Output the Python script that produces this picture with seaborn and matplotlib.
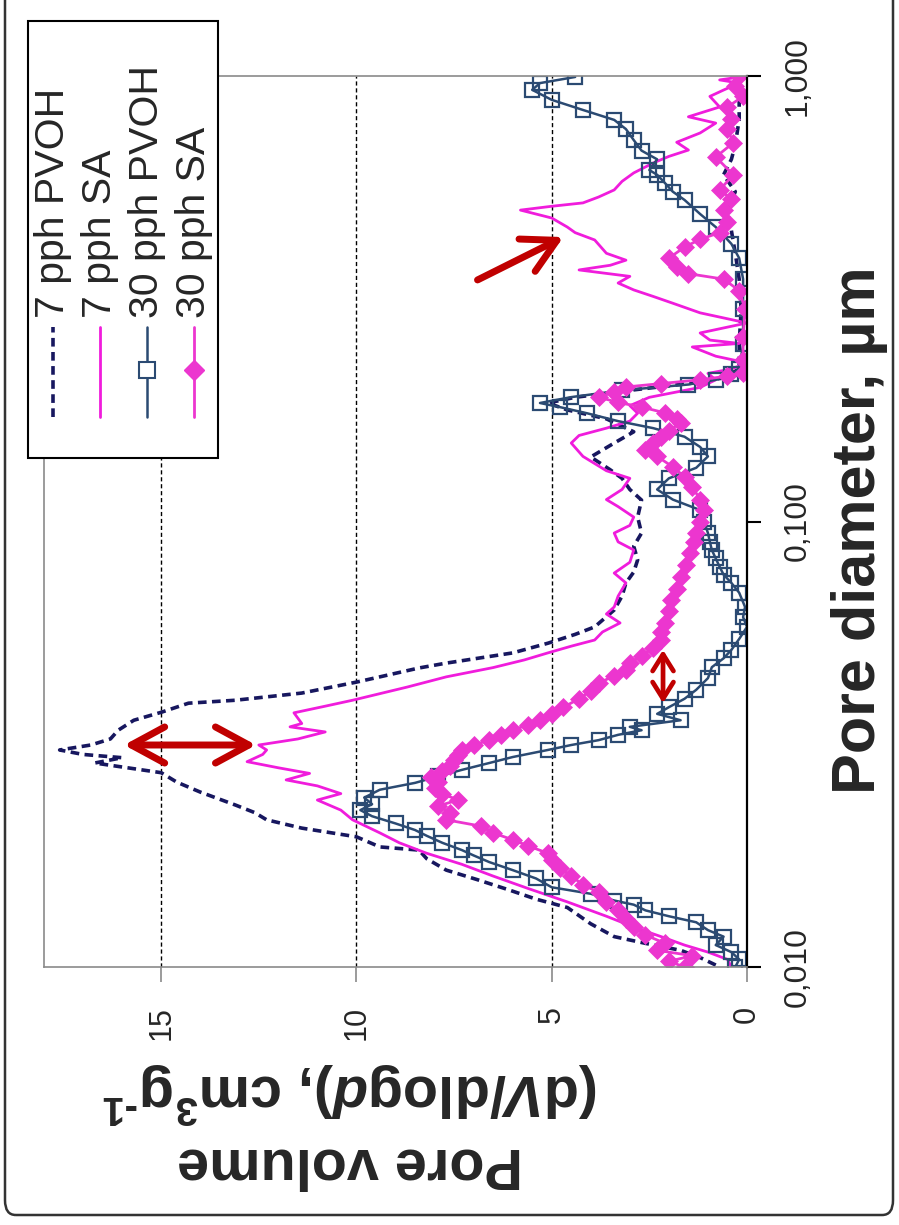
import matplotlib
matplotlib.use("Agg")
import matplotlib.pyplot as plt
import seaborn as sns
import numpy as np
from matplotlib.patches import Rectangle, FancyBboxPatch
from matplotlib.lines import Line2D
from matplotlib.ticker import FixedLocator, NullLocator

d_7pvoh = [0.0101, 0.0105, 0.0109, 0.0113, 0.0117, 0.0125, 0.0136, 0.0142, 0.0149, 0.0157,
           0.0165, 0.0175, 0.0183, 0.0186, 0.0196, 0.0205, 0.0214, 0.0222, 0.0231, 0.0247,
           0.0260, 0.0273, 0.0287, 0.0295, 0.0300, 0.0307, 0.0315, 0.0325, 0.0340, 0.0358,
           0.0373, 0.0391, 0.0397, 0.0412, 0.0436, 0.0448, 0.0469, 0.0481, 0.0507, 0.0533,
           0.0558, 0.0580, 0.0633, 0.0680, 0.0728, 0.0770, 0.0820, 0.0880, 0.0942, 0.1023,
           0.1117, 0.1180, 0.1250, 0.1306, 0.1396, 0.1500, 0.1590, 0.1700, 0.1780, 0.1845,
           0.1900, 0.1970, 0.2040, 0.2100, 0.2200, 0.2500, 0.3000, 0.3500, 0.4000, 0.4500,
           0.5000, 0.5500, 0.6000, 0.6500, 0.7000, 0.8000, 0.9000, 1.0000]
v_7pvoh = [0.8, 1.2, 1.7, 2.6, 3.4, 4.0, 4.6, 5.4, 6.1, 6.9,
           7.7, 8.2, 8.4, 9.4, 10.0, 11.4, 12.3, 12.6, 13.1, 14.0,
           14.6, 15.0, 16.7, 16.0, 17.0, 17.6, 16.8, 16.3, 16.1, 15.7,
           15.0, 14.3, 13.1, 11.4, 10.0, 9.4, 8.4, 7.7, 6.0, 5.1,
           4.4, 3.9, 3.4, 3.2, 3.1, 2.9, 2.8, 2.9, 2.7, 2.8,
           2.7, 3.0, 3.2, 3.5, 4.0, 3.4, 2.9, 3.6, 4.6, 5.1,
           4.4, 3.0, 1.5, 0.6, 0.2, 0.2, 0.15, 0.2, 0.3, 0.4,
           0.5, 0.3, 0.6, 0.4, 0.3, 0.2, 0.2, 0.3]

d_7sa = [0.0100, 0.0104, 0.0108, 0.0112, 0.0117, 0.0122, 0.0130, 0.0140, 0.0150, 0.0160,
         0.0170, 0.0180, 0.0190, 0.0200, 0.0214, 0.0225, 0.0237, 0.0245, 0.0255, 0.0263,
         0.0272, 0.0280, 0.0289, 0.0300, 0.0307, 0.0315, 0.0325, 0.0337, 0.0346, 0.0352,
         0.0372, 0.0385, 0.0397, 0.0425, 0.0448, 0.0470, 0.0489, 0.0507, 0.0525, 0.0542,
         0.0565, 0.0592, 0.0620, 0.0643, 0.0680, 0.0728, 0.0766, 0.0810, 0.0863, 0.0900,
         0.0942, 0.0980, 0.1023, 0.1080, 0.1120, 0.1180, 0.1250, 0.1300, 0.1400, 0.1500,
         0.1560, 0.1620, 0.1680, 0.1750, 0.1820, 0.1900, 0.2000, 0.2080, 0.2150, 0.2200,
         0.2270, 0.2350, 0.2465, 0.2510, 0.2554, 0.2650, 0.2790, 0.2940, 0.3090, 0.3200,
         0.3310, 0.3430, 0.3550, 0.3670, 0.3760, 0.3860, 0.4000, 0.4285, 0.4450, 0.4580,
         0.4800, 0.5000, 0.5100, 0.5190, 0.5350, 0.5550, 0.5800, 0.6060, 0.6380, 0.6600,
         0.6820, 0.7100, 0.7450, 0.7840, 0.8100, 0.8520, 0.9000, 0.9300, 0.9640, 0.9800,
         1.0000]
v_7sa = [0.4, 0.5, 1.0, 1.6, 2.2, 2.8, 3.6, 4.6, 5.6, 6.5,
         7.3, 8.2, 8.9, 9.4, 10.1, 10.4, 11.0, 10.4, 11.0, 11.8,
         11.2, 12.0, 12.8, 12.4, 12.3, 12.5, 11.5, 10.8, 11.7, 11.4,
         11.6, 10.8, 10.1, 8.7, 7.7, 6.5, 5.7, 5.1, 4.5, 3.9,
         3.7, 3.25, 3.6, 3.4, 3.3, 3.1, 3.4, 3.0, 2.9, 3.3,
         3.4, 3.0, 2.9, 3.3, 3.6, 3.2, 3.0, 3.6, 4.2, 4.5,
         4.3, 3.6, 3.0, 2.8, 3.0, 2.5, 1.2, 0.8, 1.0, 0.4,
         0.0, 0.8, 1.4, 0.2, 0.95, 1.2, 0.0, 1.2, 1.9, 2.4,
         2.9, 3.3, 3.0, 4.3, 3.5, 3.1, 3.6, 3.9, 4.4, 4.6,
         5.0, 5.8, 5.0, 4.2, 3.8, 3.4, 3.2, 2.9, 2.4, 2.0,
         1.5, 1.8, 1.2, 0.8, 1.5, 0.7, 0.95, 0.6, 0.2, 0.7,
         0.0]

d_30pvoh = [0.0100, 0.0104, 0.0108, 0.0112, 0.0117, 0.0121, 0.0126, 0.0130, 0.0134, 0.0138,
            0.0141, 0.0146, 0.0151, 0.0158, 0.0165, 0.0172, 0.0178, 0.0183, 0.0190, 0.0197,
            0.0203, 0.0210, 0.0218, 0.0225, 0.0232, 0.0240, 0.0250, 0.0259, 0.0268, 0.0277,
            0.0287, 0.0296, 0.0307, 0.0315, 0.0323, 0.0332, 0.0340, 0.0346, 0.0358, 0.0370,
            0.0383, 0.0400, 0.0419, 0.0445, 0.0471, 0.0493, 0.0515, 0.0545, 0.0580, 0.0610,
            0.0643, 0.0692, 0.0728, 0.0760, 0.0791, 0.0826, 0.0863, 0.0900, 0.0942, 0.1000,
            0.1061, 0.1120, 0.1180, 0.1250, 0.1320, 0.1400, 0.1470, 0.1550, 0.1620, 0.1680,
            0.1750, 0.1807, 0.1845, 0.1902, 0.1970, 0.2030, 0.2080, 0.2140, 0.2200, 0.2500,
            0.3000, 0.3500, 0.3900, 0.4200, 0.4580, 0.4900, 0.5270, 0.5500, 0.5750, 0.6000,
            0.6150, 0.6500, 0.6800, 0.7180, 0.7600, 0.7970, 0.8390, 0.8840, 0.9310, 0.9640,
            0.9950]
v_30pvoh = [0.3, 0.2, 0.4, 0.8, 0.6, 1.0, 1.3, 2.0, 2.6, 2.9,
            3.4, 4.0, 5.0, 5.4, 6.0, 6.6, 7.0, 7.3, 7.8, 8.2,
            8.5, 9.0, 9.6, 9.9, 9.6, 9.8, 9.4, 8.5, 7.9, 7.3,
            6.6, 6.0, 5.1, 4.5, 3.8, 3.3, 2.7, 3.0, 1.7, 2.3,
            2.0, 1.6, 1.3, 1.0, 0.9, 0.6, 0.4, 0.2, 0.0, 0.1,
            0.05, 0.2, 0.4, 0.6, 0.7, 0.8, 0.9, 0.95, 1.0, 1.1,
            1.2, 1.9, 2.3, 2.0, 1.3, 1.0, 1.2, 1.6, 2.4, 3.3,
            4.1, 4.8, 5.3, 4.5, 3.2, 1.5, 0.8, 0.4, 0.2, 0.1,
            0.1, 0.1, 0.2, 0.4, 0.8, 1.2, 1.6, 1.9, 2.1, 2.3,
            2.5, 2.3, 2.7, 2.9, 3.1, 3.4, 4.2, 5.0, 5.5, 5.3,
            4.4]

d_30sa = [0.0100, 0.0103, 0.0106, 0.0109, 0.0113, 0.0118, 0.0123, 0.0128, 0.0134, 0.0140,
          0.0147, 0.0153, 0.0160, 0.0167, 0.0174, 0.0180, 0.0187, 0.0193, 0.0200, 0.0207,
          0.0214, 0.0222, 0.0230, 0.0237, 0.0245, 0.0252, 0.0260, 0.0267, 0.0275, 0.0283,
          0.0291, 0.0299, 0.0307, 0.0315, 0.0323, 0.0332, 0.0340, 0.0350, 0.0358, 0.0370,
          0.0383, 0.0400, 0.0417, 0.0434, 0.0450, 0.0465, 0.0481, 0.0500, 0.0520, 0.0542,
          0.0565, 0.0592, 0.0630, 0.0667, 0.0705, 0.0750, 0.0800, 0.0849, 0.0900, 0.0942,
          0.1000, 0.1061, 0.1120, 0.1196, 0.1260, 0.1326, 0.1400, 0.1446, 0.1500, 0.1550,
          0.1600, 0.1664, 0.1700, 0.1753, 0.1807, 0.1850, 0.1902, 0.1950, 0.2004, 0.2040,
          0.2080, 0.2120, 0.2160, 0.2300, 0.2600, 0.3000, 0.3300, 0.3500, 0.3600, 0.3730,
          0.3900, 0.4130, 0.4300, 0.4450, 0.4700, 0.5000, 0.5300, 0.5550, 0.6000, 0.6580,
          0.7080, 0.7600, 0.8000, 0.8520, 0.9000, 0.9500, 1.0000]
v_30sa = [1.6, 2.0, 1.4, 2.3, 2.1, 2.6, 2.9, 3.1, 3.3, 3.6,
          3.8, 4.2, 4.5, 4.8, 5.0, 5.1, 5.6, 6.0, 6.5, 6.8,
          7.7, 7.6, 7.9, 7.4, 7.8, 8.0, 7.9, 8.1, 7.8, 7.6,
          7.5, 7.4, 7.3, 7.0, 6.6, 6.3, 6.0, 5.6, 5.3, 5.0,
          4.7, 4.3, 4.0, 3.8, 3.4, 3.1, 3.0, 2.7, 2.4, 2.2,
          2.2, 2.1, 2.0, 1.95, 1.8, 1.7, 1.55, 1.45, 1.35, 1.3,
          1.2, 1.1, 1.2, 1.4, 1.6, 1.9, 2.3, 2.6, 2.4, 2.2,
          2.0, 1.7, 1.8, 2.1, 2.7, 3.3, 3.8, 3.4, 3.1, 2.2,
          1.2, 0.5, 0.1, 0.1, 0.1, 0.05, 0.2, 0.6, 1.5, 1.8,
          2.0, 1.6, 1.2, 0.7, 0.5, 0.6, 0.4, 0.7, 0.35, 0.8,
          0.35, 0.5, 0.4, 0.5, 0.1, 0.3, 0.2]

series_names = ["7 pph PVOH", "7 pph SA", "30 pph PVOH", "30 pph SA"]
vol_ticks = [0, 5, 10, 15]
diam_ticks = [0.01, 0.1, 1.0]
diam_ticklabels = ["0,010", "0,100", "1,000"]

NAVY = "#17175f"
MAGENTA = "#f01cdc"
PINK = "#ec36cf"
STEEL = "#2b4a72"
RED = "#c00000"
GRAY = "#8a8a8a"

sns.set_theme(style="white")
plt.rcParams["font.family"] = ["Liberation Sans", "DejaVu Sans"]
plt.rcParams["mathtext.fontset"] = "custom"
plt.rcParams["mathtext.rm"] = "Liberation Sans:bold"
plt.rcParams["mathtext.it"] = "Liberation Sans:bold:italic"
plt.rcParams["mathtext.bf"] = "Liberation Sans:bold"

W, H = 899, 1225
fig = plt.figure(figsize=(W / 100, H / 100), dpi=100)
fig.patch.set_facecolor("white")


def fx(px):
    return px / W


def fy(py):
    return 1 - py / H


# the chart is drawn turned a quarter turn: volume runs right-to-left, diameter upward
ax = fig.add_axes([fx(44), fy(967), fx(747) - fx(44), fy(76) - fy(967)])

# 7 pph PVOH - dashed navy
sns.lineplot(x=v_7pvoh, y=d_7pvoh, ax=ax, sort=False, estimator=None, color=NAVY,
             linewidth=2.6, linestyle=(0, (2.4, 1.5)), legend=False)
# 7 pph SA - solid magenta
sns.lineplot(x=v_7sa, y=d_7sa, ax=ax, sort=False, estimator=None, color=MAGENTA,
             linewidth=2.0, legend=False)
# 30 pph PVOH - open squares
sns.lineplot(x=v_30pvoh, y=d_30pvoh, ax=ax, sort=False, estimator=None, color=STEEL,
             linewidth=1.8, marker="s", markersize=10, markerfacecolor="none",
             markeredgecolor=STEEL, markeredgewidth=1.6, legend=False)
# 30 pph SA - filled diamonds
sns.lineplot(x=v_30sa, y=d_30sa, ax=ax, sort=False, estimator=None, color=PINK,
             linewidth=2.0, marker="D", markersize=9.5, markerfacecolor=PINK,
             markeredgecolor=PINK, markeredgewidth=0.5, legend=False)

ax.set_yscale("log")
ax.set_ylim(0.01, 1.0)
ax.set_xlim(18, 0)
ax.yaxis.set_major_locator(FixedLocator(diam_ticks))
ax.yaxis.set_minor_locator(NullLocator())
ax.set_yticklabels(diam_ticklabels)
ax.set_xticks(vol_ticks)
ax.set_xticklabels([str(t) for t in vol_ticks])
ax.set_xlabel("")
ax.set_ylabel("")

# vertical dashed grid at 5, 10, 15
for g in vol_ticks[1:]:
    ax.axvline(g, color="black", linewidth=1.0, linestyle=(0, (3, 2)), zorder=0.5)

ax.yaxis.tick_right()
ax.tick_params(axis="x", direction="out", length=11, width=1.2, color=GRAY, pad=17,
               labelsize=22, labelrotation=90, bottom=True)
ax.tick_params(axis="y", which="major", direction="out", length=10, width=1.5,
               color="black", pad=16, labelsize=23, labelrotation=90, right=True, left=False)
for lab in ax.get_yticklabels():
    lab.set_verticalalignment("center")
    lab.set_horizontalalignment("left")

for side in ["left", "top", "bottom"]:
    ax.spines[side].set_color(GRAY)
    ax.spines[side].set_linewidth(1.2)
ax.spines["right"].set_color("black")
ax.spines["right"].set_linewidth(1.6)

# red arrows
ax.annotate("", xy=(15.95, 0.0315), xytext=(12.57, 0.0315),
            arrowprops=dict(arrowstyle="<->,head_length=1.2,head_width=0.65",
                            color=RED, lw=5, mutation_scale=20, shrinkA=0, shrinkB=0))
ax.annotate("", xy=(2.15, 0.0515), xytext=(2.15, 0.0391),
            arrowprops=dict(arrowstyle="<->,head_length=1.2,head_width=0.75",
                            color=RED, lw=3.4, mutation_scale=10, shrinkA=0, shrinkB=0))
ax.annotate("", xy=(4.7, 0.435), xytext=(6.9, 0.3485),
            arrowprops=dict(arrowstyle="->,head_length=1.2,head_width=0.65",
                            color=RED, lw=5, mutation_scale=20, shrinkA=0, shrinkB=0))

# axis titles (turned with the chart)
fig.text(fx(860), fy(530), "Pore diameter, µm", rotation=90, ha="center", va="center",
         fontsize=44, fontweight="bold")
fig.text(fx(350), fy(1125),
         "Pore volume\n" + r"(d$\mathit{V}$/dlog$\mathit{d}$), cm$^\mathrm{3}$g$^\mathrm{‐1}$",
         rotation=180, ha="center", va="center", multialignment="center",
         fontsize=41.5, fontweight="bold", linespacing=1.2)

# legend box, drawn by hand because it is turned as well
fig.add_artist(Rectangle((fx(28), fy(458)), fx(218) - fx(28), fy(21) - fy(458),
                         transform=fig.transFigure, facecolor="white",
                         edgecolor="black", linewidth=1.5, zorder=5))
cols = [53, 100, 147, 194]
styles = [
    dict(color=NAVY, lw=2.6, ls=(0, (2.4, 1.5))),
    dict(color=MAGENTA, lw=2.0, ls="-"),
    dict(color=STEEL, lw=1.8, ls="-"),
    dict(color=PINK, lw=2.0, ls="-"),
]
for cx, name, st in zip(cols, series_names, styles):
    fig.add_artist(Line2D([fx(cx), fx(cx)], [fy(417), fy(327)], transform=fig.transFigure,
                          color=st["color"], linewidth=st["lw"], linestyle=st["ls"], zorder=6))
    fig.text(fx(cx), fy(318), name, rotation=90, ha="center", va="bottom",
             fontsize=29.5, zorder=7)
fig.add_artist(Line2D([fx(cols[2])], [fy(370)], transform=fig.transFigure, marker="s",
                      markersize=12, markerfacecolor="white", markeredgecolor=STEEL,
                      markeredgewidth=1.5, zorder=7))
fig.add_artist(Line2D([fx(cols[3])], [fy(370)], transform=fig.transFigure, marker="D",
                      markersize=10, markerfacecolor=PINK, markeredgecolor=PINK, zorder=7))

# outer rounded frame
fig.add_artist(FancyBboxPatch((fx(5), fy(1215)), fx(893) - fx(5), fy(-20) - fy(1215),
                              boxstyle="round,pad=0,rounding_size=0.012",
                              transform=fig.transFigure, facecolor="none",
                              edgecolor="#333333", linewidth=1.8, zorder=8))

fig.savefig("out.png", dpi=100)
